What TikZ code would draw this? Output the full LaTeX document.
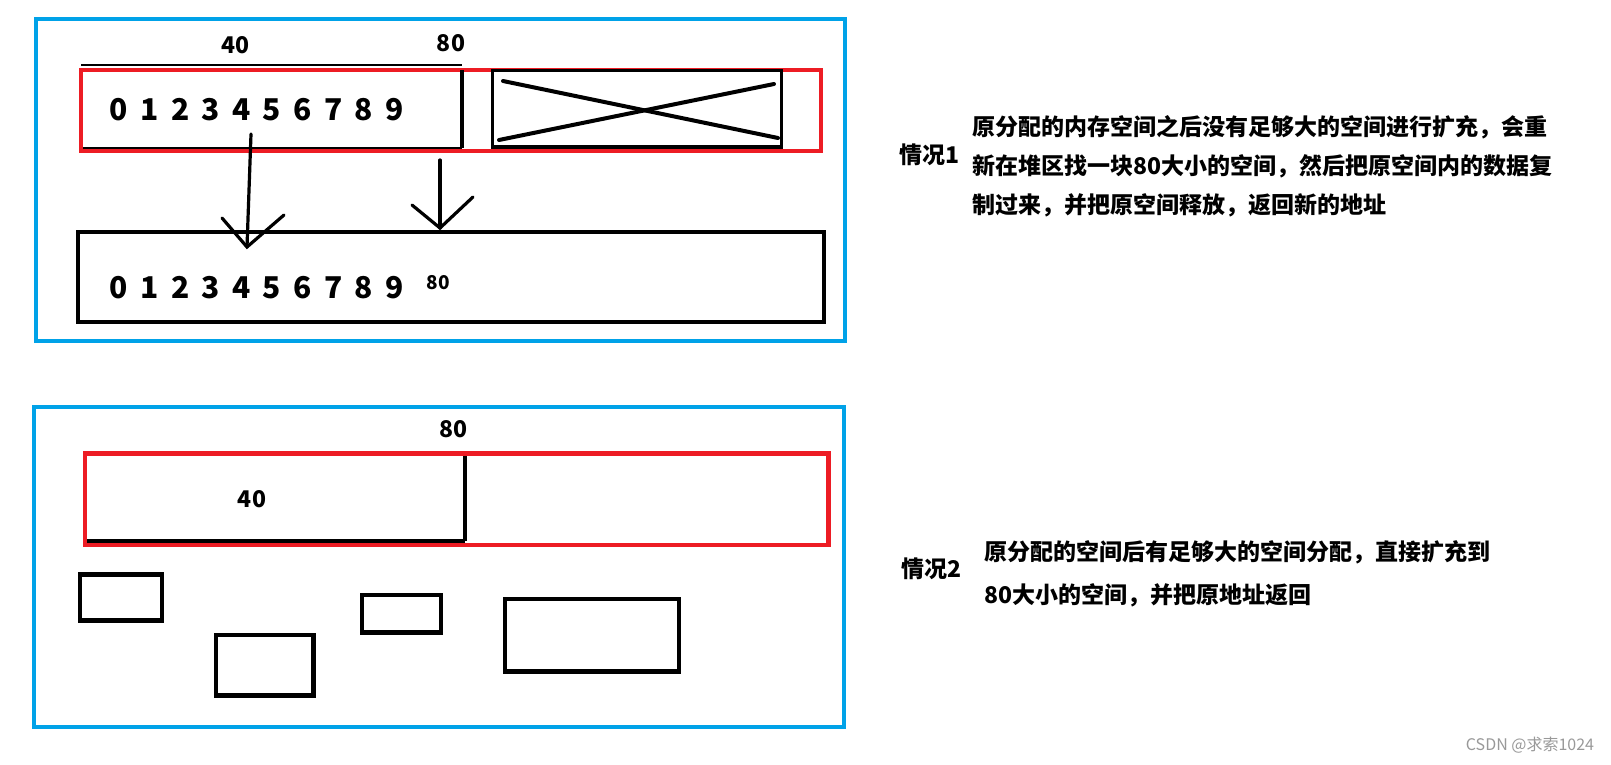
\documentclass[tikz,border=0pt]{standalone}
\usepackage{fontspec}
\setmainfont{Noto Sans CJK SC}
\definecolor{pblue}{RGB}{0,162,232}
\definecolor{pred}{RGB}{237,28,36}
\begin{document}
\begin{tikzpicture}[x=1pt,y=-1pt,
  bluebox/.style={draw=pblue,line width=4pt},
  redbox/.style={draw=pred,line width=4.5pt},
  blkbox/.style={draw=black,line width=4.5pt},
  thinline/.style={draw=black,line width=2pt},
  pen/.style={draw=black,line width=3.2pt,line cap=round},
  digit/.style={font=\bfseries\fontsize{30}{30}\selectfont,inner sep=0pt,anchor=base},
  lab/.style={font=\bfseries\fontsize{23}{23}\selectfont,inner sep=0pt},
  smalllab/.style={font=\bfseries\fontsize{19}{19}\selectfont,inner sep=0pt},
  para/.style={font=\bfseries\fontsize{23}{23}\selectfont,inner sep=0pt,anchor=west},
  wmark/.style={font=\fontsize{16}{16}\selectfont,text=black!40,inner sep=0pt}]
\useasboundingbox (0,0) rectangle (1611,765);
\fill[white] (0,0) rectangle (1611,765);
% ---------- situation 1 ----------
\draw[bluebox] (36,19) rectangle (845,341);
\draw[redbox] (81,70) rectangle (821,151);
\draw[thinline] (81,65) -- (462,65);
\draw[thinline] (83,148) -- (462,148);
\draw[black,line width=4pt] (462,70) -- (462,148);
\draw[black,line width=3pt] (492,71) rectangle (781,147);
\draw[pen,line width=4pt] (503,81) -- (778,138);
\draw[pen,line width=4pt] (499,140) -- (774,84);
\foreach \d in {0,...,9}{
  \node[digit] (ta\d) at ({119+30.6*\d},121) {\d};
}
\node[lab] (l40a) at (235.5,45) {40};
\node[lab] (l80a) at (451,43) {80};
\draw[blkbox] (78,232) rectangle (824,322);
\foreach \d in {0,...,9}{
  \node[digit] (tb\d) at ({119+30.6*\d},298) {\d};
}
\node[smalllab] (l80b) at (438,283) {80};
% arrows
\coordinate (a1s) at (251,134);
\coordinate (a1e) at (247,247);
\coordinate (a1l) at (222,218);
\coordinate (a1r) at (284,215);
\draw[pen] (a1s) -- (a1e);
\draw[pen] (a1l) -- (a1e) -- (a1r);
\coordinate (a2s) at (440,160);
\coordinate (a2e) at (440,228);
\coordinate (a2l) at (412,205);
\coordinate (a2r) at (473,197);
\draw[pen] (a2s) -- (a2e);
\draw[pen] (a2l) -- (a2e) -- (a2r);
\node[lab] (c1) at (929,155) {情况1};
\node[para] (p1a) at (972,127.5) {原分配的内存空间之后没有足够大的空间进行扩充，会重};
\node[para] (p1b) at (972,166) {新在堆区找一块80大小的空间，然后把原空间内的数据复};
\node[para] (p1c) at (972,205.5) {制过来，并把原空间释放，返回新的地址};
% ---------- situation 2 ----------
\draw[bluebox] (34,406.5) rectangle (844,727);
\draw[redbox] (85,453.5) rectangle (828.5,545);
\draw[black,line width=4pt] (465,456) -- (465,541);
\draw[black,line width=4pt] (87,541) -- (465,541);
\node[lab] (l40c) at (252,499.5) {40};
\node[lab] (l80c) at (453.5,429.5) {80};
\draw[blkbox] (80,574.5) rectangle (162,620.5);
\draw[blkbox] (216,635) rectangle (313.5,695.5);
\draw[blkbox] (362,595) rectangle (441,632.5);
\draw[blkbox] (505,599) rectangle (679,671.5);
\node[lab] (c2) at (931,569) {情况2};
\node[para] (p2a) at (984,552) {原分配的空间后有足够大的空间分配，直接扩充到};
\node[para] (p2b) at (984,595) {80大小的空间，并把原地址返回};
\node[wmark] (wm) at (1530,745) {CSDN @求索1024};
\end{tikzpicture}
\end{document}
